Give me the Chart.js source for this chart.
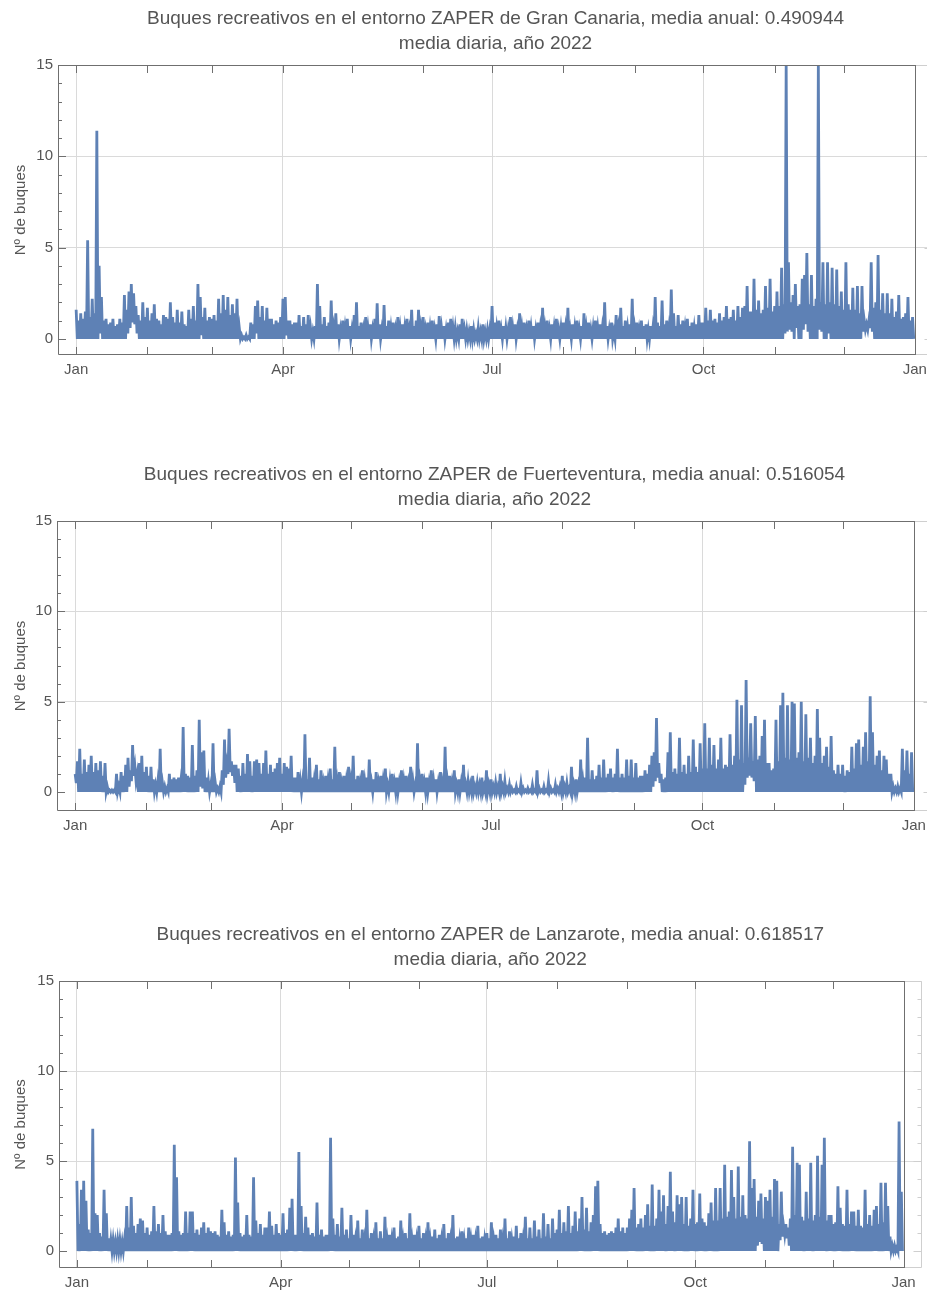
<!DOCTYPE html>
<html>
<head>
<meta charset="utf-8">
<title>Buques recreativos ZAPER 2022</title>
<script src="https://cdn.jsdelivr.net/npm/chart.js@4.4.1/dist/chart.umd.min.js"></script>
<style>
  html, body { margin: 0; padding: 0; background: #fff; overflow: hidden; }
  body { width: 927px; height: 1293px; position: relative; }
  canvas { position: absolute; left: 0; display: block; }
</style>
</head>
<body>
<canvas id="c0" width="940" height="385" style="top:0"></canvas>
<canvas id="c1" width="940" height="385" style="top:456px"></canvas>
<canvas id="c2" width="940" height="377" style="top:916px"></canvas>
<script>
// two readings per day of 2022: *Day at 00h, *Night at 12h (index 0 = 1 Jan)
const granCanariaDay = [
  1.6, 1.0, 1.4, 1.1, 1.5, 5.4, 1.2, 2.2, 1.4, 11.4,
  4.0, 2.3, 1.0, 1.1, 0.8, 0.9, 1.1, 0.7, 0.8, 1.1,
  0.9, 2.4, 1.6, 2.6, 3.0, 2.5, 1.8, 1.3, 1.0, 2.0,
  1.2, 1.7, 1.0, 1.4, 1.9, 1.1, 1.0, 0.8, 1.3, 1.2,
  1.1, 2.0, 1.2, 0.9, 1.6, 0.9, 1.5, 0.8, 0.7, 1.6,
  1.1, 1.8, 1.0, 3.0, 2.3, 1.2, 1.7, 1.0, 1.2, 1.1,
  1.3, 1.0, 2.2, 1.4, 2.4, 1.6, 2.3, 1.3, 1.9, 1.4,
  2.2, 0.6, 0.2, 0.1, 0.2, 0.1, 0.9, 0.8, 1.8, 2.1,
  1.2, 1.8, 1.0, 1.7, 1.1, 1.1, 0.8, 1.0, 0.9, 1.2,
  2.2, 2.3, 1.0, 1.0, 0.8, 0.9, 0.9, 1.3, 0.7, 1.2,
  0.8, 1.3, 0.6, 0.4, 0.7, 3.0, 1.8, 0.8, 1.2, 0.7,
  0.9, 2.1, 0.6, 1.4, 0.8, 0.5, 1.0, 0.6, 1.1, 0.7,
  0.5, 1.3, 2.0, 0.7, 0.9, 0.5, 1.2, 0.6, 0.8, 0.5,
  1.1, 1.95, 0.8, 0.5, 1.85, 0.7, 1.0, 0.6, 0.9, 0.5,
  1.2, 0.6, 0.8, 0.6, 1.1, 0.5, 1.6, 0.7, 1.0, 1.6,
  0.6, 1.2, 0.5, 0.9, 0.6, 1.0, 0.5, 0.8, 1.25, 0.6,
  0.7, 0.5, 0.9, 1.1, 0.6, 0.6, 0.4, 0.8, 1.1, 0.5,
  0.5, 0.4, 0.7, 0.5, 0.3, 0.6, 0.4, 0.8, 0.4, 0.5,
  0.5, 1.8, 0.9, 0.6, 1.0, 0.5, 0.7, 0.6, 0.5, 1.2,
  0.6, 0.8, 0.5, 1.4, 0.6, 0.9, 0.5, 1.0, 0.6, 0.7,
  0.5, 0.9, 0.6, 1.7, 0.6, 1.0, 0.5, 0.8, 0.6, 1.1,
  0.5, 0.6, 0.9, 0.6, 1.7, 0.5, 0.8, 0.6, 1.0, 0.5,
  0.7, 1.4, 0.6, 0.9, 0.5, 0.6, 1.0, 0.6, 0.8, 0.6,
  2.0, 0.7, 0.5, 0.9, 0.4, 1.3, 0.6, 1.7, 0.7, 1.0,
  0.6, 0.8, 2.2, 0.6, 0.9, 0.5, 1.0, 0.7, 0.8, 0.5,
  0.7, 0.6, 2.3, 0.9, 0.7, 2.1, 0.8, 1.0, 0.6, 2.7,
  1.4, 0.7, 1.3, 0.8, 1.0, 0.6, 1.1, 0.7, 0.9, 0.6,
  0.8, 1.3, 0.9, 0.9, 1.7, 1.0, 1.6, 1.0, 1.1, 0.9,
  1.4, 1.0, 1.2, 1.8, 1.1, 1.2, 1.6, 1.0, 1.8, 1.2,
  1.7, 1.8, 2.9, 1.5, 1.5, 3.3, 1.6, 2.1, 1.4, 1.6,
  2.9, 1.7, 3.3, 1.5, 1.8, 2.6, 1.8, 3.9, 1.9, 15,
  4.2, 2.0, 2.4, 3.0, 1.8, 1.9, 3.3, 3.5, 4.7, 1.9,
  3.5, 1.8, 2.2, 15, 2.0, 4.2, 1.9, 4.2, 2.0, 3.9,
  1.9, 3.8, 1.8, 2.6, 1.6, 4.2, 1.9, 1.6, 2.8, 1.6,
  2.9, 1.4, 2.9, 1.0, 0.8, 1.0, 4.2, 1.7, 2.0, 4.6,
  1.6, 2.5, 1.4, 2.5, 1.4, 2.2, 1.2, 1.5, 2.4, 1.1,
  1.2, 1.4, 2.3, 1.0, 1.2
];
const granCanariaNight = [
  0, 0, 0, 0, 0, 0, 0, 0, 0, 0,
  0.3, 0, 0, 0, 0, 0, 0, 0, 0, 0,
  0, 0, 0.3, 0.6, 0.9, 0.8, 0.3, 0, 0, 0,
  0, 0, 0, 0, 0, 0, 0, 0, 0, 0,
  0, 0, 0, 0, 0, 0, 0, 0, 0, 0,
  0, 0, 0, 0, 0.2, 0, 0, 0, 0, 0,
  0, 0, 0, 0, 0, 0, 0, 0, 0, 0,
  0, 0, 0, 0, 0, 0, 0, 0, 0.3, 0,
  0, 0, 0, 0, 0, 0, 0, 0, 0, 0,
  0, 0.2, 0, 0, 0, 0, 0, 0, 0, 0,
  0, 0, 0, 0, 0, 0, 0, 0, 0, 0,
  0, 0, 0, 0, 0, 0, 0, 0, 0, 0,
  0, 0, 0, 0, 0, 0, 0, 0, 0, 0,
  0, 0, 0, 0, 0, 0, 0, 0, 0, 0,
  0, 0, 0, 0, 0, 0, 0, 0, 0, 0,
  0, 0, 0, 0, 0, 0, 0, 0, 0, 0,
  0, 0, 0, 0, 0, 0, 0, 0, 0, 0,
  0, 0, 0, 0, 0, 0, 0, 0, 0, 0,
  0, 0, 0, 0, 0, 0, 0, 0, 0, 0,
  0, 0, 0, 0, 0, 0, 0, 0, 0, 0,
  0, 0, 0, 0, 0, 0, 0, 0, 0, 0,
  0, 0, 0, 0, 0, 0, 0, 0, 0, 0,
  0, 0, 0, 0, 0, 0, 0, 0, 0, 0,
  0, 0, 0, 0, 0, 0, 0, 0, 0, 0,
  0, 0, 0, 0, 0, 0, 0, 0, 0, 0,
  0, 0, 0, 0, 0, 0, 0, 0, 0, 0,
  0, 0, 0, 0, 0, 0, 0, 0, 0, 0,
  0, 0, 0, 0, 0, 0, 0, 0, 0, 0,
  0, 0, 0, 0, 0, 0, 0, 0, 0, 0,
  0, 0, 0, 0, 0, 0, 0, 0, 0, 0,
  0, 0, 0, 0, 0, 0, 0, 0, 0.3, 0.4,
  0.5, 0.4, 0, 0.6, 0, 0, 0.5, 0.8, 0.4, 0,
  0, 0, 0, 0.5, 0.4, 0, 0, 0.3, 0, 0,
  0, 0, 0, 0, 0, 0, 0, 0, 0, 0,
  0, 0, 0.4, 0.5, 0.5, 0.6, 0.4, 0, 0, 0,
  0, 0, 0, 0, 0, 0, 0, 0, 0, 0,
  0, 0, 0, 0, 0
];

const fuerteventuraDay = [
  1.0, 1.7, 2.4, 1.0, 1.8, 1.1, 1.5, 2.0, 1.1, 1.6,
  1.2, 1.7, 0.9, 1.6, 0.3, 0.1, 0.1, 0.1, 1.0, 0.3,
  1.1, 0.9, 1.5, 1.9, 1.2, 2.6, 1.4, 1.0, 1.6, 2.0,
  1.1, 1.4, 0.9, 1.4, 0.7, 0.4, 0.6, 2.4, 0.5, 0.3,
  0.2, 1.0, 0.7, 0.8, 0.7, 0.8, 0.6, 3.6, 1.0, 0.9,
  0.8, 2.6, 0.9, 1.2, 4.0, 2.2, 2.3, 0.8, 0.6, 0.4,
  2.7, 0.5, 0.2, 0.3, 1.2, 2.9, 1.5, 3.5, 1.7, 1.5,
  1.5, 1.3, 0.9, 1.6, 1.0, 2.1, 1.7, 0.9, 1.7, 1.8,
  1.6, 1.0, 1.6, 2.3, 1.0, 1.5, 1.1, 1.3, 1.6, 1.9,
  1.0, 1.6, 1.4, 1.3, 2.0, 0.8, 0.8, 1.1, 0.6, 0.6,
  3.2, 0.7, 1.9, 0.8, 0.6, 1.5, 0.7, 1.2, 0.5, 0.9,
  0.6, 1.3, 0.7, 2.5, 0.6, 1.1, 0.5, 0.9, 0.6, 1.4,
  0.6, 2.0, 0.7, 0.9, 0.5, 1.2, 0.6, 0.8, 1.8, 0.5,
  0.7, 1.1, 0.5, 0.9, 0.6, 1.3, 0.4, 0.6, 1.0, 0.5,
  0.8, 0.5, 1.2, 0.6, 0.9, 0.5, 1.4, 0.6, 0.4, 2.7,
  0.6, 1.0, 0.5, 0.8, 0.5, 1.2, 0.6, 0.7, 0.5, 1.1,
  0.5, 2.5, 0.6, 0.9, 0.5, 1.2, 0.4, 0.7, 0.5, 1.5,
  0.4, 0.6, 0.4, 0.9, 0.3, 0.5, 0.4, 0.8, 0.3, 1.2,
  0.4, 0.7, 0.3, 0.5, 0.3, 1.0, 0.3, 0.6, 0.2, 0.4,
  0.2, 0.1, 0.3, 0.1, 0.5, 0.2, 0.1, 0.2, 0.1, 0.4,
  0.1, 1.2, 0.2, 0.1, 0.3, 0.1, 0.6, 0.2, 0.1, 0.4,
  0.2, 0.3, 0.9, 0.3, 0.5, 0.2, 1.4, 0.4, 0.7, 0.4,
  1.8, 0.6, 0.8, 3.0, 0.7, 1.2, 0.7, 0.9, 1.5, 0.8,
  1.8, 0.8, 1.0, 1.3, 0.8, 1.0, 2.4, 0.8, 1.0, 0.8,
  1.8, 0.9, 1.8, 0.8, 1.6, 0.8, 0.9, 0.9, 1.2, 1.0,
  1.5, 2.0, 2.2, 4.1, 1.6, 1.0, 0.7, 0.8, 2.2, 3.3,
  1.1, 1.3, 1.0, 3.0, 1.1, 1.5, 1.0, 2.0, 1.1, 2.9,
  1.4, 1.1, 2.7, 1.3, 3.8, 1.3, 3.0, 1.5, 2.6, 1.3,
  1.8, 3.0, 1.3, 1.5, 1.4, 3.2, 1.5, 2.0, 5.1, 1.8,
  4.8, 1.6, 6.2, 1.9, 3.8, 1.7, 4.2, 1.8, 2.0, 3.1,
  4.0, 1.6, 1.6, 1.2, 1.3, 4.0, 1.7, 4.8, 5.5, 1.9,
  4.8, 1.8, 5.0, 4.9, 1.9, 2.2, 5.0, 1.7, 4.3, 1.9,
  3.0, 1.6, 2.0, 4.6, 3.0, 1.6, 2.0, 2.5, 1.4, 3.1,
  1.2, 1.0, 1.5, 1.0, 1.5, 0.9, 1.2, 1.1, 2.5, 1.3,
  2.7, 2.9, 1.5, 2.5, 3.3, 1.7, 5.3, 3.3, 1.5, 2.0,
  2.3, 1.2, 2.0, 1.8, 1.0, 1.0, 0.3, 0.2, 0.3, 0.2,
  2.4, 1.2, 2.3, 1.0, 2.2
];
const fuerteventuraNight = [
  0.5, 0, 0, 0, 0, 0, 0, 0, 0, 0,
  0, 0, 0, 0, 0, 0, 0, 0, 0, 0,
  0, 0, 0, 0.3, 0.6, 0.9, 0.6, 0, 0, 0,
  0, 0, 0, 0, 0, 0, 0, 0, 0, 0,
  0, 0, 0, 0, 0, 0, 0, 0, 0, 0,
  0, 0, 0, 0, 0.3, 0.2, 0, 0, 0, 0,
  0, 0, 0, 0, 0.4, 0.8, 1.0, 1.1, 0.9, 0.5,
  0, 0, 0, 0, 0, 0, 0, 0, 0, 0,
  0, 0, 0, 0, 0, 0, 0, 0, 0, 0,
  0, 0, 0, 0, 0, 0, 0, 0, 0, 0,
  0, 0, 0, 0, 0, 0, 0, 0, 0, 0,
  0, 0, 0, 0, 0, 0, 0, 0, 0, 0,
  0, 0, 0, 0, 0, 0, 0, 0, 0, 0,
  0, 0, 0, 0, 0, 0, 0, 0, 0, 0,
  0, 0, 0, 0, 0, 0, 0, 0, 0, 0,
  0, 0, 0, 0, 0, 0, 0, 0, 0, 0,
  0, 0, 0, 0, 0, 0, 0, 0, 0, 0,
  0, 0, 0, 0, 0, 0, 0, 0, 0, 0,
  0, 0, 0, 0, 0, 0, 0, 0, 0, 0,
  0, 0, 0, 0, 0, 0, 0, 0, 0, 0,
  0, 0, 0, 0, 0, 0, 0, 0, 0, 0,
  0, 0, 0, 0, 0, 0, 0, 0, 0, 0,
  0, 0, 0, 0, 0, 0, 0, 0, 0, 0,
  0, 0, 0, 0, 0, 0, 0, 0, 0, 0,
  0, 0, 0, 0, 0, 0, 0, 0, 0, 0,
  0, 0.3, 0.6, 0.8, 0.5, 0, 0, 0, 0, 0,
  0, 0, 0, 0, 0, 0, 0, 0, 0, 0,
  0, 0, 0, 0, 0, 0, 0, 0, 0, 0,
  0, 0, 0, 0, 0, 0, 0, 0, 0, 0,
  0, 0.4, 0.8, 0.9, 0.8, 0.6, 0, 0, 0, 0,
  0, 0, 0, 0, 0, 0, 0, 0, 0, 0,
  0, 0, 0, 0, 0, 0, 0, 0, 0, 0,
  0, 0, 0, 0, 0, 0, 0, 0, 0, 0,
  0, 0, 0, 0, 0, 0, 0, 0, 0, 0,
  0, 0, 0, 0, 0, 0, 0, 0, 0, 0,
  0, 0, 0, 0, 0, 0, 0, 0, 0, 0,
  0, 0, 0, 0, 0
];

const lanzaroteDay = [
  3.9, 1.5, 3.4, 3.9, 2.8, 1.2, 1.0, 6.8, 2.1, 2.0,
  1.0, 0.8, 3.4, 2.1, 0.7, 0.6, 0.6, 0.5, 0.6, 0.6,
  0.5, 0.6, 2.5, 1.3, 3.0, 1.4, 1.0, 1.5, 1.8, 1.7,
  1.0, 1.3, 0.9, 1.1, 2.5, 1.1, 1.5, 1.0, 2.0, 1.1,
  0.9, 0.9, 1.0, 5.9, 4.1, 1.1, 0.9, 1.0, 2.2, 1.0,
  2.2, 2.2, 1.0, 1.2, 0.9, 1.3, 1.6, 1.0, 1.3, 1.1,
  1.0, 1.1, 0.9, 0.8, 2.3, 1.6, 0.9, 1.1, 0.8, 0.9,
  5.2, 2.7, 1.0, 0.8, 0.9, 2.0, 0.9, 0.8, 4.1, 1.7,
  1.0, 1.5, 0.9, 1.3, 1.3, 2.2, 1.4, 0.9, 1.5, 1.0,
  0.9, 2.1, 1.0, 1.2, 2.4, 2.9, 0.9, 0.9, 5.5, 2.5,
  1.0, 1.9, 1.3, 0.9, 1.0, 0.8, 2.7, 0.9, 1.2, 0.8,
  0.9, 0.9, 6.3, 1.8, 0.9, 1.5, 0.8, 2.4, 0.9, 1.2,
  0.7, 2.0, 0.9, 0.6, 1.7, 0.7, 1.2, 0.6, 2.3, 0.7,
  1.0, 0.6, 1.6, 0.7, 1.1, 0.7, 1.9, 0.6, 0.9, 0.6,
  1.3, 0.7, 0.8, 1.7, 0.6, 1.0, 0.7, 2.1, 0.6, 0.9,
  0.6, 1.4, 0.7, 1.0, 0.6, 1.6, 0.6, 0.8, 1.2, 0.7,
  0.9, 0.6, 1.5, 0.7, 1.0, 0.6, 2.0, 0.7, 0.8, 0.6,
  1.1, 0.6, 0.7, 1.3, 0.6, 0.9, 0.6, 1.4, 0.7, 0.8,
  0.6, 1.0, 0.7, 1.6, 0.6, 0.9, 0.7, 1.2, 0.6, 1.8,
  0.7, 1.1, 0.6, 0.8, 1.4, 0.7, 1.0, 0.6, 1.9, 0.7,
  1.3, 0.7, 1.7, 0.8, 1.2, 0.7, 2.1, 0.8, 1.5, 0.7,
  1.8, 1.0, 1.2, 2.3, 1.0, 1.6, 1.1, 2.5, 1.0, 1.4,
  2.2, 1.1, 1.8, 3.0, 1.2, 2.4, 1.1, 1.6, 2.0, 3.6,
  3.9, 1.5, 1.0, 1.1, 0.9, 1.0, 1.1, 1.0, 1.3, 1.8,
  1.1, 1.3, 1.0, 1.3, 1.8, 2.3, 3.5, 1.3, 1.5, 1.8,
  1.3, 2.0, 2.6, 1.4, 3.7, 1.4, 1.8, 3.4, 2.2, 3.1,
  1.5, 2.5, 4.4, 2.2, 1.6, 3.1, 2.6, 3.0, 1.5, 3.0,
  1.4, 1.8, 3.4, 1.5, 1.6, 3.2, 1.8, 1.6, 1.4, 2.1,
  2.7, 1.7, 3.5, 1.7, 3.5, 1.8, 4.8, 1.9, 2.2, 4.5,
  3.0, 1.8, 4.7, 1.9, 3.1, 2.0, 1.8, 6.1, 3.5, 4.0,
  1.9, 2.8, 3.2, 1.8, 3.0, 2.8, 3.4, 1.9, 4.0, 3.9,
  1.5, 3.3, 1.4, 1.5, 1.3, 1.8, 5.8, 2.0, 4.9, 4.8,
  1.9, 1.7, 3.3, 1.8, 4.9, 1.7, 2.0, 5.3, 1.9, 4.8,
  6.3, 1.7, 2.0, 2.0, 1.5, 1.6, 3.6, 2.4, 1.5, 1.4,
  3.4, 1.5, 2.2, 2.2, 1.4, 2.3, 1.4, 1.3, 3.4, 1.5,
  2.0, 1.4, 2.3, 2.5, 1.5, 3.8, 1.6, 3.8, 2.5, 0.8,
  0.3, 0.3, 0.2, 7.2, 3.3
];
const lanzaroteNight = [
  0, 0, 0, 0, 0, 0, 0, 0, 0, 0,
  0, 0, 0, 0, 0, 0, 0, 0, 0, 0,
  0, 0, 0, 0, 0, 0, 0, 0, 0, 0,
  0, 0, 0, 0, 0, 0, 0, 0, 0, 0,
  0, 0, 0, 0, 0, 0, 0, 0, 0, 0,
  0, 0, 0, 0, 0, 0, 0, 0, 0, 0,
  0, 0, 0, 0, 0, 0, 0, 0, 0, 0,
  0, 0, 0, 0, 0, 0, 0, 0, 0, 0,
  0, 0, 0, 0, 0, 0, 0, 0, 0, 0,
  0, 0, 0, 0, 0, 0, 0, 0, 0, 0,
  0, 0, 0, 0, 0, 0, 0, 0, 0, 0,
  0, 0, 0, 0, 0, 0, 0, 0, 0, 0,
  0, 0, 0, 0, 0, 0, 0, 0, 0, 0,
  0, 0, 0, 0, 0, 0, 0, 0, 0, 0,
  0, 0, 0, 0, 0, 0, 0, 0, 0, 0,
  0, 0, 0, 0, 0, 0, 0, 0, 0, 0,
  0, 0, 0, 0, 0, 0, 0, 0, 0, 0,
  0, 0, 0, 0, 0, 0, 0, 0, 0, 0,
  0, 0, 0, 0, 0, 0, 0, 0, 0, 0,
  0, 0, 0, 0, 0, 0, 0, 0, 0, 0,
  0, 0, 0, 0, 0, 0, 0, 0, 0, 0,
  0, 0, 0, 0, 0, 0, 0, 0, 0, 0,
  0, 0, 0, 0, 0, 0, 0, 0, 0, 0,
  0, 0, 0, 0, 0, 0, 0, 0, 0, 0,
  0, 0, 0, 0, 0, 0, 0, 0, 0, 0,
  0, 0, 0, 0, 0, 0, 0, 0, 0, 0,
  0, 0, 0, 0, 0, 0, 0, 0, 0, 0,
  0, 0, 0, 0, 0, 0, 0, 0, 0, 0,
  0, 0, 0, 0, 0, 0, 0, 0, 0, 0,
  0, 0, 0, 0, 0, 0, 0, 0, 0, 0,
  0.3, 0.5, 0.4, 0, 0, 0, 0, 0, 0, 0,
  0.6, 0.8, 0.9, 0.7, 0.3, 0, 0, 0, 0, 0,
  0, 0, 0, 0, 0, 0, 0, 0, 0, 0,
  0, 0, 0, 0, 0, 0, 0, 0, 0, 0,
  0, 0, 0, 0, 0, 0, 0, 0, 0, 0,
  0, 0, 0, 0, 0, 0, 0, 0, 0, 0,
  0, 0, 0, 0, 0
];

const islands = ['Gran Canaria', 'Fuerteventura', 'Lanzarote'];
const annualMeans = ['0.490944', '0.516054', '0.618517'];
const dayReadings = [granCanariaDay, fuerteventuraDay, lanzaroteDay];
const nightReadings = [granCanariaNight, fuerteventuraNight, lanzaroteNight];

// first day of each month, 2022 (365 = 1 Jan 2023)
const monthStarts = [0, 31, 59, 90, 120, 151, 181, 212, 243, 273, 304, 334, 365];
const monthLabels = ['Jan', '', '', 'Apr', '', '', 'Jul', '', '', 'Oct', '', '', 'Jan'];
const quarterDays = [0, 90, 181, 273];
const yTicks = [0, 5, 10, 15];

// per-panel geometry
const yMins = [-0.88, -1.05, -0.94];
const leftWidths = [58, 57, 59];
const rightPads = [7, 8, 18.5];
const bottomHeights = [30, 30, 25];

const FONT = "'Liberation Sans', Arial, sans-serif";
const TEXT = '#555555';
const FRAME = '#6f6f6f';
const FADED = '#cfcfcf';
const GRID = '#dadada';
const LINE = 'rgb(94,129,181)';

// frame with inward ticks, Mathematica style
const framePlugin = {
  id: 'frame',
  afterDatasetsDraw(chart) {
    const { ctx, chartArea: a, scales: { x, y } } = chart;
    const xEnd = Math.round(x.getPixelForValue(365)) + 0.5;
    const top = Math.round(a.top) + 0.5;
    const bot = Math.round(a.bottom) - 0.5;
    const left = Math.round(a.left) + 0.5;
    const right = Math.round(a.right) - 0.5;
    ctx.save();
    ctx.lineWidth = 1;

    // part of the frame past the end of the year
    ctx.strokeStyle = FADED;
    ctx.beginPath();
    ctx.moveTo(xEnd, top); ctx.lineTo(right, top); ctx.lineTo(right, bot); ctx.lineTo(xEnd, bot);
    for (let v = 0; v <= 15; v++) {
      const py = Math.round(y.getPixelForValue(v)) + 0.5;
      const len = v % 5 ? 4 : 8;
      ctx.moveTo(right, py); ctx.lineTo(right - len, py);
    }
    ctx.stroke();

    ctx.strokeStyle = FRAME;
    ctx.beginPath();
    ctx.moveTo(xEnd, top); ctx.lineTo(left, top); ctx.lineTo(left, bot); ctx.lineTo(xEnd, bot);
    ctx.moveTo(xEnd, a.top); ctx.lineTo(xEnd, a.bottom);
    monthStarts.forEach(d => {
      const px = Math.round(x.getPixelForValue(d)) + 0.5;
      ctx.moveTo(px, a.top); ctx.lineTo(px, a.top + 8);
      ctx.moveTo(px, a.bottom); ctx.lineTo(px, a.bottom - 8);
    });
    for (let v = 0; v <= 15; v++) {
      const py = Math.round(y.getPixelForValue(v)) + 0.5;
      const len = v % 5 ? 4 : 8;
      ctx.moveTo(a.left, py); ctx.lineTo(a.left + len, py);
    }
    ctx.stroke();
    ctx.restore();
  }
};

function buildChart(i) {
  const points = [];
  dayReadings[i].forEach((v, d) => {
    points.push({ x: d, y: v });
    points.push({ x: d + 0.5, y: nightReadings[i][d] });
  });
  return new Chart(document.getElementById('c' + i), {
    type: 'line',
    data: {
      datasets: [{
        data: points,
        borderColor: LINE,
        borderWidth: 2.8,
        pointRadius: 0,
        tension: 0,
        fill: false
      }]
    },
    options: {
      responsive: false,
      animation: false,
      events: [],
      layout: { padding: { left: 0, right: rightPads[i], top: 0, bottom: 0 } },
      plugins: {
        legend: { display: false },
        tooltip: { enabled: false },
        title: {
          display: true,
          fullSize: false,
          text: [
            'Buques recreativos en el entorno ZAPER de ' + islands[i] + ', media anual: ' + annualMeans[i],
            'media diaria, año 2022'
          ],
          color: TEXT,
          font: { family: FONT, size: 19, weight: 'normal', lineHeight: '25px' },
          padding: { top: 6, bottom: 9 }
        }
      },
      scales: {
        x: {
          type: 'linear',
          min: -7.9,
          max: 372.9,
          afterBuildTicks: s => { s.ticks = monthStarts.map(v => ({ value: v })); },
          afterFit: s => { s.height = bottomHeights[i]; },
          ticks: {
            autoSkip: false,
            maxRotation: 0,
            padding: 6,
            color: TEXT,
            font: { family: FONT, size: 15 },
            callback: (v, idx) => monthLabels[idx]
          },
          grid: {
            drawTicks: false,
            color: c => (c.tick && quarterDays.includes(c.tick.value)) ? GRID : 'rgba(0,0,0,0)'
          },
          border: { display: false }
        },
        y: {
          type: 'linear',
          min: yMins[i],
          max: 15,
          afterBuildTicks: s => { s.ticks = yTicks.map(v => ({ value: v })); },
          afterFit: s => { s.width = leftWidths[i]; },
          ticks: {
            padding: 5,
            color: TEXT,
            font: { family: FONT, size: 15 },
            callback: v => String(v)
          },
          grid: {
            drawTicks: false,
            color: c => (c.tick && (c.tick.value === 5 || c.tick.value === 10)) ? GRID : 'rgba(0,0,0,0)'
          },
          border: { display: false },
          title: {
            display: true,
            text: 'Nº de buques',
            color: TEXT,
            font: { family: FONT, size: 15 },
            padding: { top: 12, bottom: 0 }
          }
        }
      }
    },
    plugins: [framePlugin]
  });
}

dayReadings.forEach((_, i) => buildChart(i));
</script>
</body>
</html>
